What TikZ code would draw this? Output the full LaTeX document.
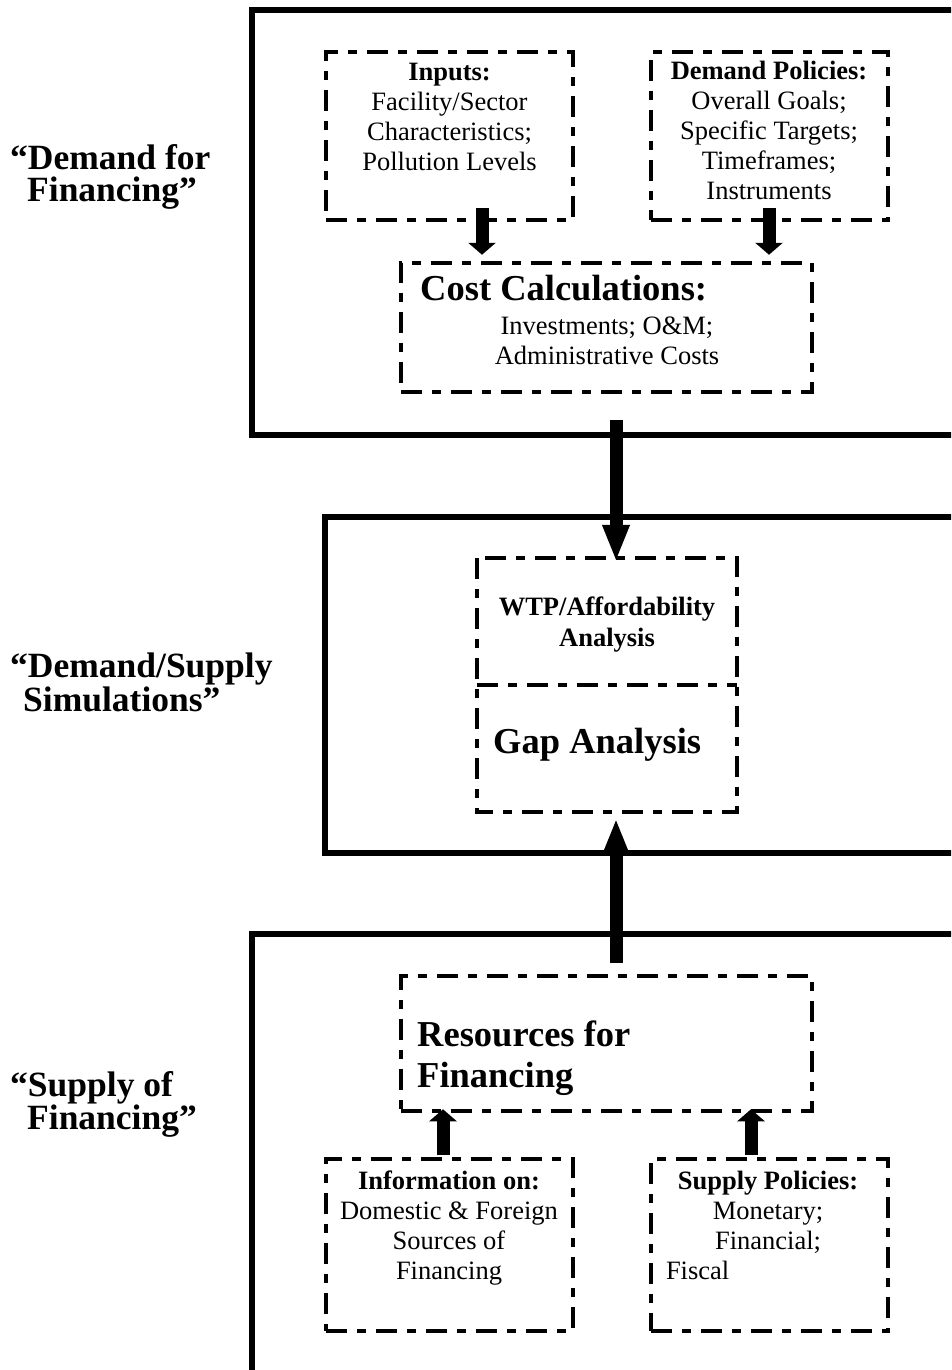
\documentclass[tikz,border=0pt]{standalone}
\usepackage{fontspec}
\setmainfont{Liberation Serif}
\usetikzlibrary{arrows.meta}
\begin{document}
\begin{tikzpicture}[x=1pt,y=-1pt,
  frame/.style={line width=6pt},
  dashline/.style={line width=4.5pt, dash pattern=on 21pt off 10pt on 9pt off 10pt},
  dbox/.style={draw, dashline, inner sep=0pt},
  gbox/.style={inner sep=0pt},
  txt/.style={inner sep=0pt, align=center, font=\fontsize{26.5}{30}\selectfont},
  bigtxt/.style={inner sep=0pt, align=left, font=\fontsize{36.5}{30}\selectfont\bfseries},
  sidetxt/.style={inner sep=0pt, align=left, font=\fontsize{35.5}{32}\selectfont\bfseries},
  sarrow/.style={line width=13pt, -{Triangle[width=27pt,length=12pt]}},
  barrow/.style={line width=13pt, -{Triangle[width=25pt,length=37pt]}}]
\path[use as bounding box] (0,0) rectangle (951,1370);
\clip (0,0) rectangle (951,1370);

% frames
\draw[frame] (252,10) rectangle (1000,435);
\draw[frame] (325,517) rectangle (1000,853);
\draw[frame] (252,934) rectangle (1000,1420);

% left labels
\node[sidetxt, anchor=north west] (l1) at (10,144) {“Demand for\\\hspace*{17pt}Financing”};
\node[sidetxt, anchor=north west] (l2) at (10,653) {“Demand/Supply\\\hspace*{13pt}Simulations”};
\node[sidetxt, anchor=north west] (l3) at (10,1071) {“Supply of\\\hspace*{17pt}Financing”};

% top section
\node[dbox, minimum width=247pt, minimum height=168pt] (inputs) at (449.5,136) {};
\node[txt, anchor=north] (inputsT) at (449.5,62.5) {\textbf{Inputs:}\\Facility/Sector\\Characteristics;\\Pollution Levels};
\node[dbox, minimum width=237pt, minimum height=168pt] (policies) at (769.5,136) {};
\node[txt, anchor=north] (policiesT) at (769,61) {\textbf{Demand Policies:}\\Overall Goals;\\Specific Targets;\\Timeframes;\\Instruments};
\node[dbox, minimum width=411pt, minimum height=129pt] (cost) at (606.5,327.5) {};
\node[bigtxt, anchor=north west] (costH) at (420,275) {Cost Calculations:};
\node[txt, anchor=north] (costT) at (607,317) {Investments; O\&M;\\Administrative Costs};

% middle section
\node[gbox, minimum width=260pt, minimum height=127pt] (wtp) at (607,621.5) {};
\node[gbox, minimum width=260pt, minimum height=127pt] (gap) at (607,748.5) {};
\draw[dashline] (wtp.north west) rectangle (gap.south east);
\draw[dashline] (wtp.south west) -- (wtp.south east);
\node[txt, anchor=north, font=\fontsize{26.5}{31}\selectfont\bfseries] (wtpT) at (607,597) {WTP/Affordability\\Analysis};
\node[bigtxt, anchor=north west] (gapT) at (493,728) {Gap Analysis};

% bottom section
\node[dbox, minimum width=411pt, minimum height=135pt] (res) at (606.5,1043.5) {};
\node[bigtxt, anchor=north west, font=\fontsize{36.5}{41}\selectfont\bfseries] (resT) at (417,1021) {Resources for\\Financing};
\node[dbox, minimum width=247pt, minimum height=172pt] (info) at (449.5,1245) {};
\node[txt, anchor=north] (infoT) at (449,1171) {\textbf{Information on:}\\Domestic \& Foreign\\Sources of\\Financing};
\node[dbox, minimum width=237pt, minimum height=172pt] (supply) at (769.5,1245) {};
\node[txt, anchor=north] (supplyT) at (768,1171) {\textbf{Supply Policies:}\\Monetary;\\Financial;\\\makebox[204pt][l]{Fiscal}};

% arrows
\coordinate (s1) at (482,208);
\coordinate (s2) at (769,208);
\draw[sarrow, shorten >=6pt] (s1) -- (s1 |- cost.north);
\draw[sarrow, shorten >=6pt] (s2) -- (s2 |- cost.north);
\coordinate (b1) at (616,420);
\draw[barrow, shorten >=-4pt] (b1) -- (b1 |- wtp.north);
\coordinate (b2) at (616,963);
\draw[barrow, shorten >=6pt] (b2) -- (b2 |- gap.south);
\coordinate (u1) at (443,1155);
\coordinate (u2) at (751,1155);
\draw[sarrow, shorten >=-4pt] (u1) -- (u1 |- res.south);
\draw[sarrow, shorten >=-4pt] (u2) -- (u2 |- res.south);
\end{tikzpicture}
\end{document}
